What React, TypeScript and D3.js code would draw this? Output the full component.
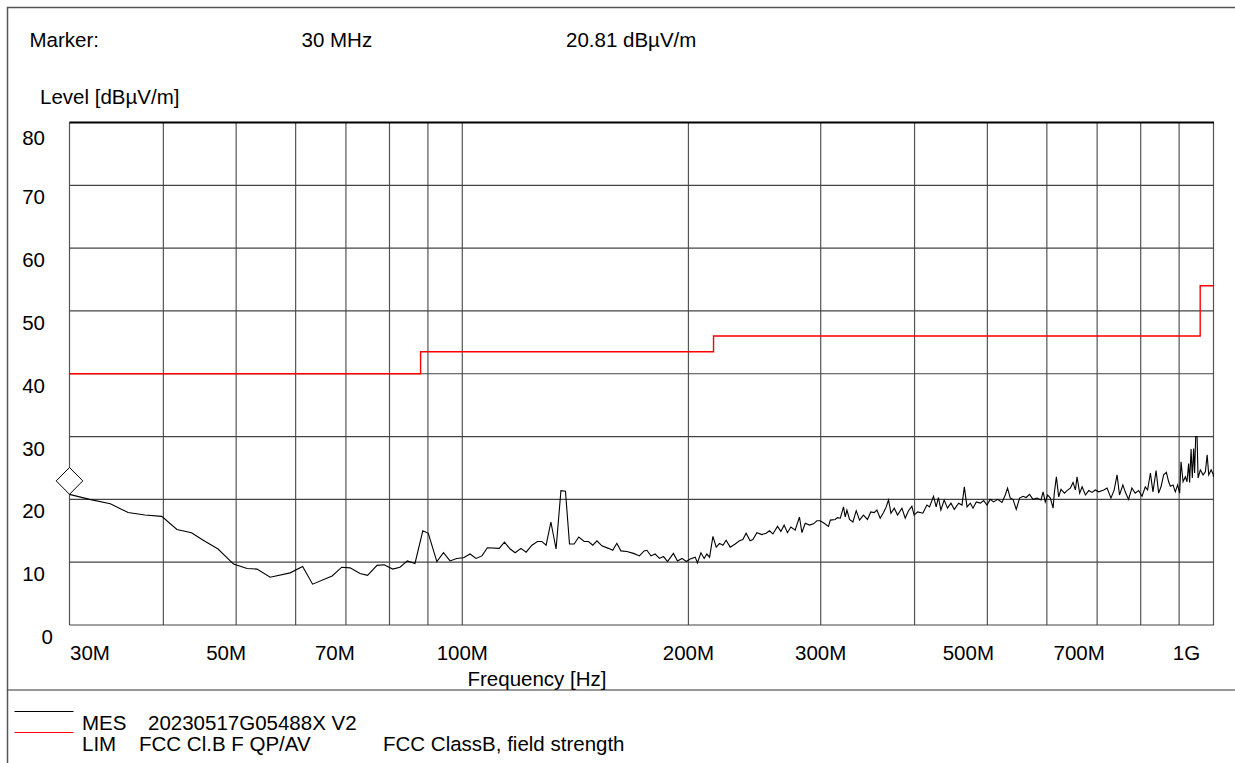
import React, { useRef, useEffect } from 'react';
import * as d3 from 'd3';

// measured trace (MHz, dBµV/m)
const measFreq = [
  30.0, 31.9, 34.0, 35.9, 37.8, 39.8, 41.7, 43.6, 45.2, 47.3, 49.6, 51.7, 53.3, 55.5, 59.0, 61.3, 63.2, 67.1, 69.1, 70.9,
  73.1, 74.8, 77.0, 78.7, 80.8, 82.6, 84.5, 86.5, 88.6, 90.1, 92.5, 94.4, 96.3, 98.3, 100.4, 102.4, 104.3, 106.2, 108.0, 112.0,
  113.8, 115.8, 117.6, 119.7, 121.6, 123.8, 125.9, 127.6, 129.3, 131.2, 133.3, 135.3, 137.2, 138.9, 140.9, 142.9, 145.3, 147.2, 149.2, 151.1,
  153.4, 156.5, 158.6, 160.6, 162.6, 165.6, 169.0, 172.1, 174.6, 176.1, 178.3, 180.6, 183.0, 185.3, 187.6, 191.0, 193.4, 196.1, 198.7, 201.1,
  204.2, 205.6, 207.8, 209.9, 211.6, 213.4, 215.6, 217.8, 220.0, 222.3, 224.5, 227.3, 230.8, 233.9, 236.3, 238.7, 241.6, 243.7, 246.7, 250.5,
  253.8, 256.4, 259.1, 262.8, 265.5, 268.2, 270.9, 273.8, 277.4, 281.1, 283.2, 286.1, 289.9, 293.4, 296.5, 299.5, 303.2, 307.2, 309.0, 313.6,
  315.8, 318.6, 321.7, 323.4, 325.1, 327.7, 331.1, 334.5, 337.9, 342.0, 346.2, 349.8, 353.4, 356.4, 360.0, 363.7, 366.7, 369.3, 372.1, 375.9,
  379.7, 384.8, 388.7, 392.6, 396.7, 399.5, 403.8, 410.3, 415.4, 418.8, 423.9, 427.4, 430.4, 433.6, 438.0, 442.5, 447.2, 451.8, 457.8, 462.6,
  465.9, 469.8, 474.6, 478.5, 483.3, 489.4, 494.4, 499.4, 504.4, 509.7, 516.0, 522.9, 528.2, 531.9, 536.4, 540.9, 546.3, 551.9, 557.7, 563.2,
  569.0, 575.0, 582.3, 589.3, 593.2, 597.1, 601.4, 606.5, 611.6, 613.9, 617.8, 622.2, 626.6, 633.3, 638.2, 644.8, 650.2, 654.8, 658.2, 663.5,
  668.5, 675.3, 682.3, 689.2, 696.2, 703.3, 714.4, 721.6, 730.3, 737.6, 744.1, 749.7, 757.5, 762.9, 770.7, 778.7, 786.6, 794.8, 803.3, 811.3,
  817.1, 824.2, 830.6, 838.6, 845.2, 851.4, 858.3, 865.5, 871.6, 876.1, 883.3, 889.6, 895.8, 901.5, 905.3, 910.9, 917.4, 922.0, 926.6, 929.4,
  933.6, 937.1, 940.9, 943.8, 946.9, 950.9, 953.8, 960.5, 968.5, 975.4, 980.7, 985.5, 992.8, 998.9, 1000,
];
const measLevel = [
  20.8, 20.0, 19.3, 17.9, 17.5, 17.3, 15.2, 14.7, 13.5, 12.1, 9.7, 9.0, 8.9, 7.6, 8.3, 9.3, 6.5, 7.8, 9.2, 9.1,
  8.2, 7.9, 9.5, 9.6, 8.9, 9.2, 10.2, 9.8, 15.0, 14.6, 10.1, 11.5, 10.2, 10.6, 10.7, 11.3, 10.6, 11.0, 12.3, 12.2,
  13.2, 12.1, 11.5, 12.2, 11.6, 12.7, 13.3, 13.3, 12.7, 16.4, 12.1, 21.4, 21.3, 12.9, 12.9, 14.0, 13.3, 13.3, 12.7, 13.4,
  12.6, 12.2, 11.9, 13.0, 11.8, 11.7, 11.4, 11.0, 11.8, 11.9, 11.0, 11.3, 10.6, 10.9, 10.1, 11.4, 10.2, 10.6, 10.1, 10.5,
  10.8, 9.9, 11.5, 10.6, 11.3, 10.8, 14.1, 12.4, 13.0, 12.7, 13.5, 12.4, 12.9, 13.4, 13.6, 14.6, 13.4, 13.6, 14.7, 14.4,
  14.6, 15.0, 14.5, 15.7, 14.9, 15.9, 14.7, 15.6, 15.1, 17.2, 14.7, 16.2, 15.9, 16.1, 16.6, 16.6, 16.2, 15.7, 16.7, 16.8,
  17.1, 17.0, 18.8, 17.2, 18.3, 16.8, 16.4, 18.2, 16.7, 17.5, 16.8, 18.0, 17.9, 18.3, 17.0, 17.9, 18.8, 19.9, 17.8, 18.6,
  17.5, 18.6, 17.0, 18.2, 18.9, 17.5, 18.0, 17.8, 19.1, 18.8, 20.5, 18.8, 20.3, 18.3, 19.9, 18.6, 19.4, 18.4, 19.4, 19.1,
  22.0, 18.8, 19.4, 18.6, 19.6, 19.4, 19.8, 19.1, 20.0, 19.6, 20.0, 19.5, 20.7, 21.8, 20.2, 20.0, 18.4, 20.2, 20.5, 20.3,
  20.8, 20.0, 20.2, 19.9, 21.2, 19.6, 20.7, 20.2, 18.6, 21.0, 23.6, 20.4, 21.6, 21.0, 21.4, 21.8, 22.7, 21.5, 23.6, 21.0,
  22.0, 20.7, 21.4, 21.1, 21.5, 21.2, 21.5, 21.8, 20.2, 21.5, 23.9, 20.7, 22.3, 21.2, 20.0, 21.8, 21.0, 21.4, 20.5, 22.0,
  21.5, 24.2, 21.2, 24.6, 21.0, 22.0, 23.9, 24.3, 22.8, 22.1, 22.3, 21.2, 22.3, 21.0, 26.0, 22.8, 23.6, 22.8, 25.7, 22.7,
  28.0, 23.4, 28.1, 24.2, 30.0, 30.0, 23.4, 24.7, 23.9, 24.4, 27.1, 23.9, 24.7, 24.0, 23.6,
];

// FCC class B limit, step breakpoints (MHz) and levels
const limitFreq = [30, 88, 216, 960, 1000];
const limitLevel = [40, 43.5, 46, 54, 54];

const gridFreqs = [30, 40, 50, 60, 70, 80, 90, 100, 200, 300, 400, 500, 600, 700, 800, 900, 1000];
const xTickFreqs = [30, 50, 70, 100, 200, 300, 500, 700, 1000];
const xTickLabels = ['30M', '50M', '70M', '100M', '200M', '300M', '500M', '700M', '1G'];
const yTicks = [0, 10, 20, 30, 40, 50, 60, 70, 80];

const markerFreq = 30;
const markerLevel = 20.81;

const width = 1235;
const height = 763;
const font = '"Liberation Sans", Arial, sans-serif';
const fs = '20.5px';
// the analyser software shifts some frequency labels left of their grid line
const xLabelShift = [0, -10, -11, 0, 0, 0, -19, -18, -27];

const App: React.FC = () => {
  const svgRef = useRef<SVGSVGElement>(null);

  useEffect(() => {
    if (!svgRef.current) return;
    const svg = d3.select(svgRef.current);
    svg.selectAll('*').remove();

    const left = 69.5, right = 1213.5, top = 122.5, bottom = 625;
    const x = d3.scaleLog().domain([30, 1000]).range([left, right]);
    const y = d3.scaleLinear().domain([0, 80]).range([bottom, top]);

    svg.append('rect').attr('width', width).attr('height', height).attr('fill', '#fff');

    // outer frame and legend divider
    svg.append('rect')
      .attr('x', 7.5).attr('y', 7.5)
      .attr('width', width + 10).attr('height', height + 10)
      .attr('fill', 'none').attr('stroke', '#555').attr('stroke-width', 1.5);
    svg.append('line')
      .attr('x1', 7.5).attr('x2', width).attr('y1', 690).attr('y2', 690)
      .attr('stroke', '#333').attr('stroke-width', 1.2);

    const text = (tx: number, ty: number, s: string, anchor = 'start') =>
      svg.append('text')
        .attr('x', tx).attr('y', ty)
        .attr('text-anchor', anchor)
        .style('font-family', font).style('font-size', fs)
        .attr('fill', '#000')
        .text(s);

    // header
    text(29.5, 47, 'Marker:');
    text(301.5, 47, `${markerFreq} MHz`);
    text(566, 47, `${markerLevel} dBµV/m`);
    text(40, 104, 'Level [dBµV/m]');

    // grid
    const grid = svg.append('g');
    grid.selectAll('line.v')
      .data(gridFreqs)
      .enter()
      .append('line')
      .attr('x1', d => x(d)).attr('x2', d => x(d))
      .attr('y1', top).attr('y2', bottom)
      .attr('stroke', '#555').attr('stroke-width', 1.2);
    grid.selectAll('line.h')
      .data(yTicks)
      .enter()
      .append('line')
      .attr('x1', left).attr('x2', right + 0.5)
      .attr('y1', d => y(d)).attr('y2', d => y(d))
      .attr('stroke', '#444').attr('stroke-width', 1.2);
    svg.append('line')
      .attr('x1', left).attr('x2', right + 0.5)
      .attr('y1', top).attr('y2', top)
      .attr('stroke', '#000').attr('stroke-width', 2);

    // y tick labels
    yTicks.forEach(v => {
      text(v === 0 ? 53 : 45, y(v) + (v === 80 ? 22 : 19), String(v), 'end');
    });

    // x tick labels
    xTickFreqs.forEach((f, i) => {
      if (i === 0) text(x(f) + 0.5, 660, xTickLabels[i]);
      else text(x(f) + xLabelShift[i], 660, xTickLabels[i], 'middle');
    });
    text(537, 686, 'Frequency [Hz]', 'middle');

    // limit line
    const limitLine = d3.line<number>()
      .x((_, i) => x(limitFreq[i]))
      .y(d => y(d))
      .curve(d3.curveStepAfter);
    svg.append('path')
      .attr('d', limitLine(limitLevel))
      .attr('fill', 'none').attr('stroke', '#ff0000').attr('stroke-width', 1.4);

    // measurement trace
    const measLine = d3.line<number>()
      .x((_, i) => x(measFreq[i]))
      .y(d => y(d));
    svg.append('path')
      .attr('d', measLine(measLevel))
      .attr('fill', 'none').attr('stroke', '#000').attr('stroke-width', 1.1)
      .attr('stroke-linejoin', 'miter');

    // marker diamond sitting on the trace
    const mx = x(markerFreq), my = y(markerLevel);
    svg.append('path')
      .attr('d', `M${mx},${my} L${mx + 13.3},${my - 13.4} L${mx},${my - 26.8} L${mx - 13.3},${my - 13.4} Z`)
      .attr('fill', '#fff').attr('stroke', '#000').attr('stroke-width', 1);

    // legend
    svg.append('line').attr('x1', 14.5).attr('x2', 73.5).attr('y1', 711.5).attr('y2', 711.5)
      .attr('stroke', '#000').attr('stroke-width', 1.2);
    svg.append('line').attr('x1', 14.5).attr('x2', 73.5).attr('y1', 732.5).attr('y2', 732.5)
      .attr('stroke', '#ff0000').attr('stroke-width', 1.2);
    text(82, 730, 'MES');
    text(148, 730, '20230517G05488X V2');
    text(82, 751, 'LIM');
    text(139, 751, 'FCC Cl.B F QP/AV');
    text(383, 751, 'FCC ClassB, field strength');
  }, []);

  return (
    <svg
      ref={svgRef}
      width={width}
      height={height}
      style={{ position: 'absolute', left: 0, top: 0, display: 'block' }}
    />
  );
};

export default App;
